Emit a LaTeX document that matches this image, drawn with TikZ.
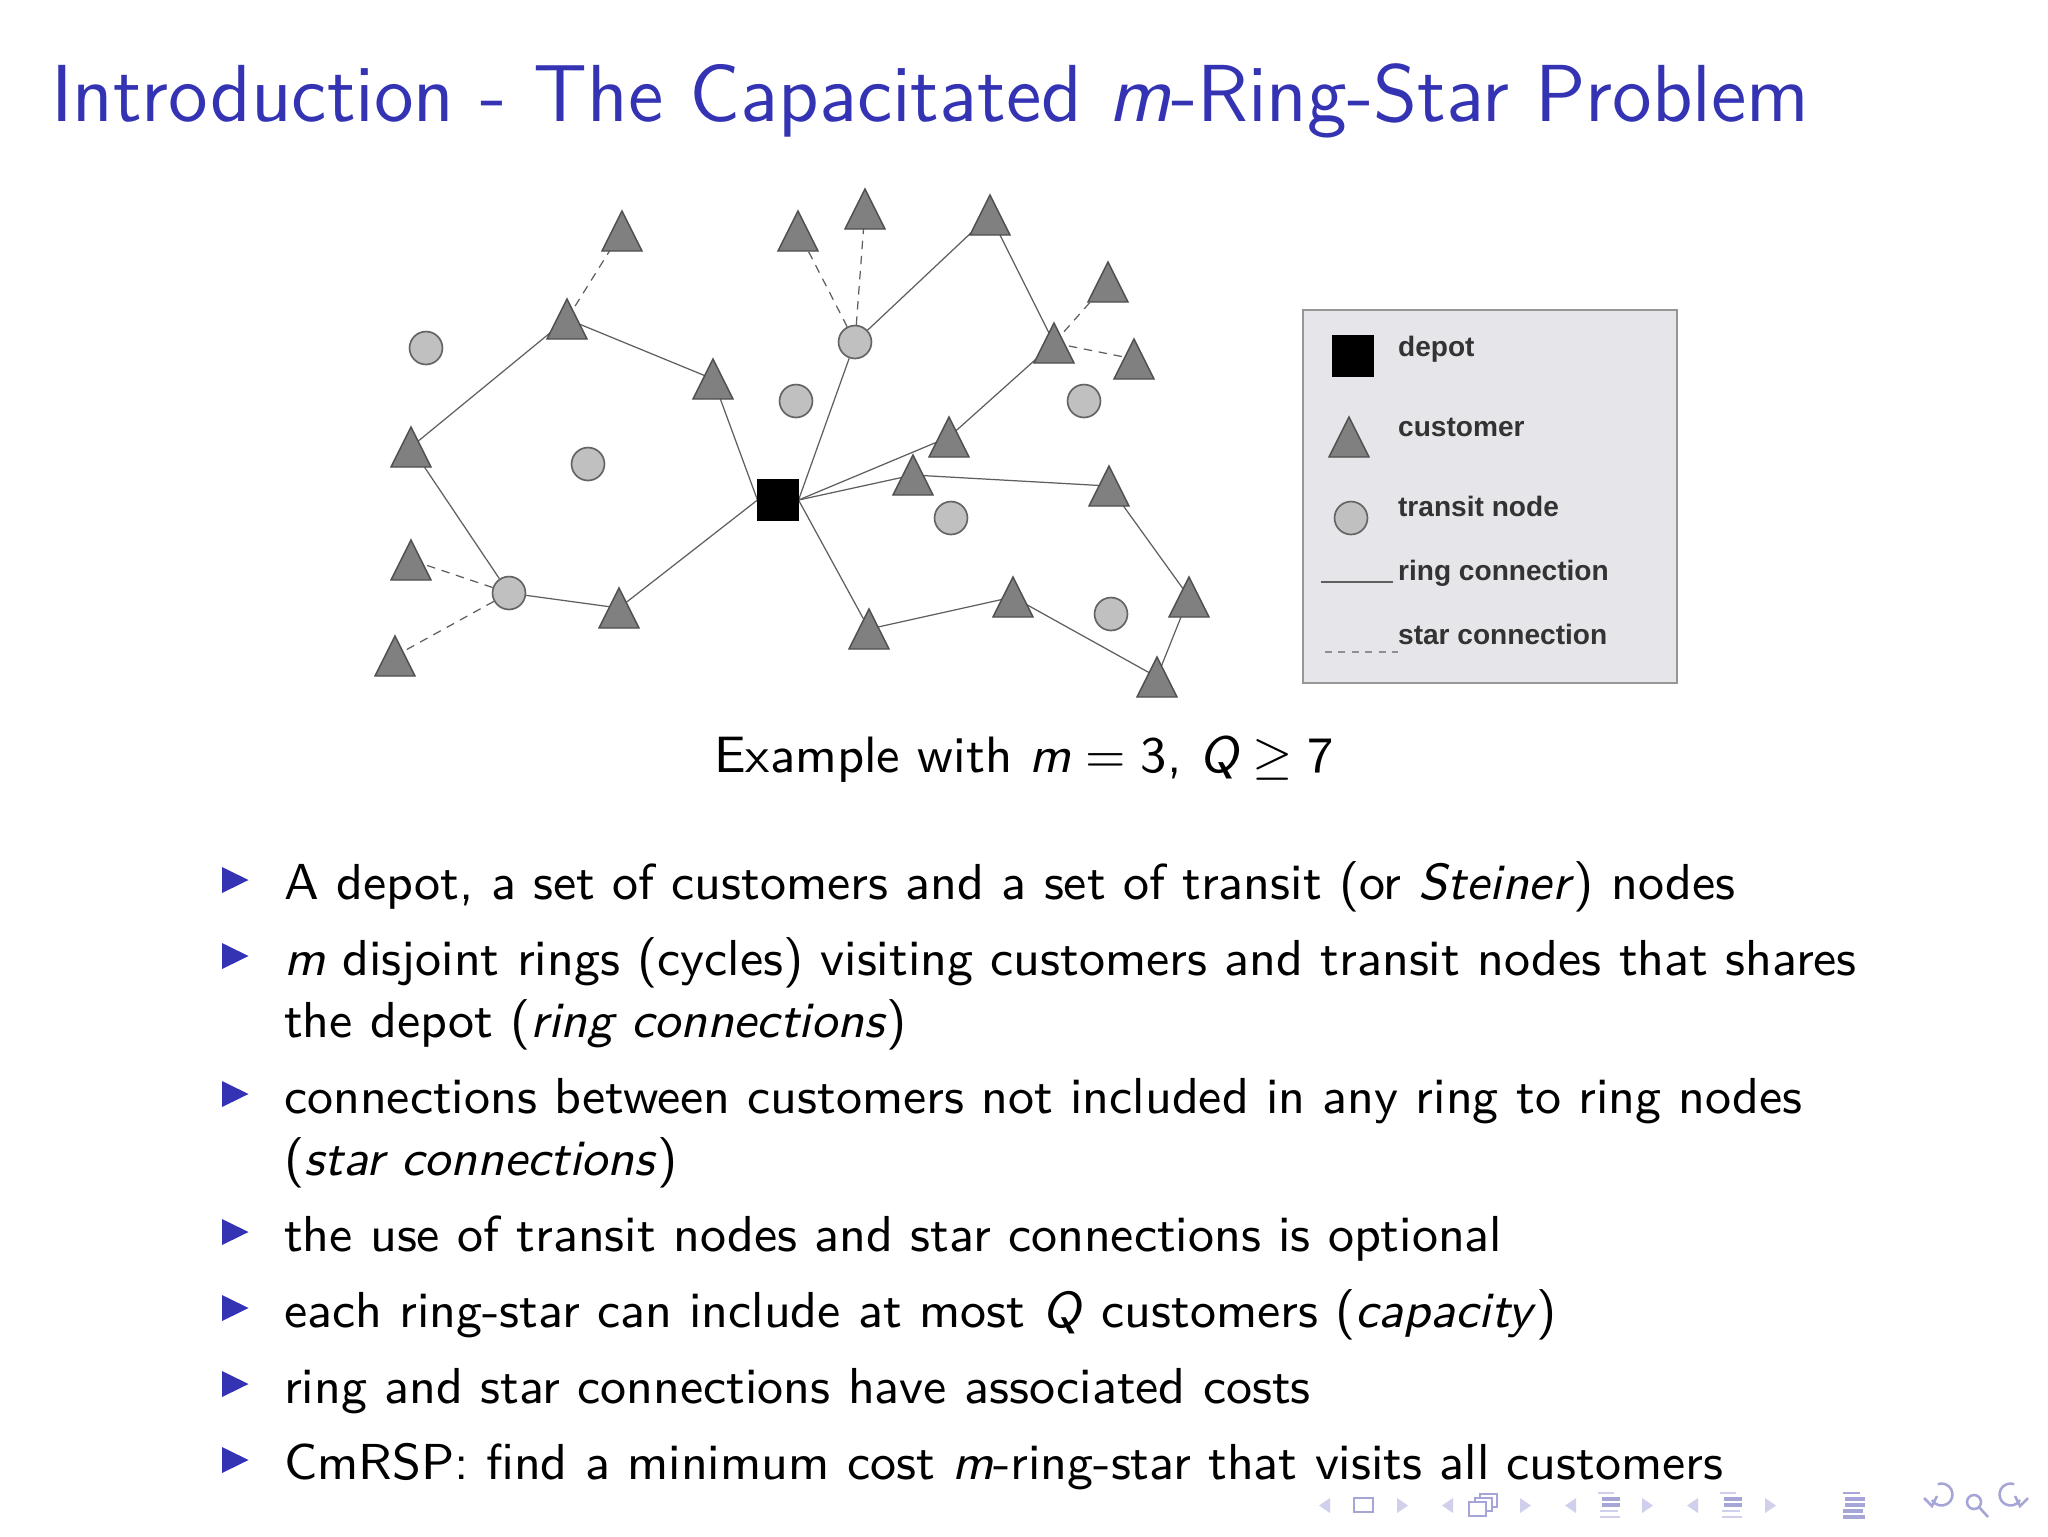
\documentclass[tikz,border=0pt]{standalone}
\usepackage{fontspec}
\newfontfamily\legendfont{Liberation Sans}
\usetikzlibrary{calc,arrows.meta}
\pgfdeclarelayer{back}
\pgfdeclarelayer{bg}
\pgfsetlayers{back,bg,main}
\definecolor{struct}{RGB}{51,51,179}
\definecolor{custfill}{RGB}{128,128,128}
\definecolor{custedge}{RGB}{78,78,78}
\definecolor{transfill}{RGB}{192,192,192}
\definecolor{transedge}{RGB}{100,100,100}
\definecolor{edgecol}{RGB}{95,95,95}
\definecolor{legfill}{RGB}{230,229,233}
\definecolor{legedge}{RGB}{150,150,150}
\definecolor{legtext}{RGB}{51,51,51}
\definecolor{navdark}{RGB}{165,165,215}
\definecolor{navlight}{RGB}{208,208,236}
\tikzset{
  cust/.pic={\filldraw[fill=custfill,draw=custedge,line width=0.25pt] (-20,20) -- (0,-20) -- (20,20) -- cycle;},
  transit/.style={circle,fill=transfill,draw=transedge,line width=0.3pt,minimum size=2.06mm,inner sep=0pt},
  depot/.style={rectangle,fill=black,draw=black,line width=0.2pt,minimum size=2.5mm,inner sep=0pt},
  ring/.style={draw=edgecol,line width=0.22pt},
  starline/.style={draw=edgecol,line width=0.22pt,dash pattern=on 1.5pt off 1.2pt},
  legtxt/.style={anchor=base west,inner sep=0pt,text=legtext,font=\legendfont\bfseries\fontsize{5}{6}\selectfont},
  bodytxt/.style={anchor=base west,inner sep=0pt,font=\sffamily\fontsize{9}{11}\selectfont},
  navtri/.style={fill=navlight,draw=none},
  navline/.style={draw=navdark,line width=0.45pt}
}
\begin{document}
\begin{tikzpicture}[x=0.00625cm,y=-0.00625cm]
\useasboundingbox (0,0) rectangle (2048,1536);
\begin{pgfonlayer}{back}
\fill[white] (0,0) rectangle (2048,1536);
\end{pgfonlayer}

% title
\node[anchor=base west,inner sep=0pt,text=struct,font=\sffamily\fontsize{14.4}{17}\selectfont] (title) at (50,121) {Introduction - The Capacitated \textit{m}-Ring-Star Problem};

% ---------- diagram nodes ----------
\coordinate (T1) at (622,231);
\coordinate (T2) at (567,319);
\coordinate (T3) at (713,379);
\coordinate (T4) at (411,447);
\coordinate (T5) at (411,560);
\coordinate (T6) at (619,608);
\coordinate (T7) at (395,656);
\coordinate (T8) at (798,231);
\coordinate (T9) at (865,209);
\coordinate (T10) at (990,215);
\coordinate (T11) at (1108,282);
\coordinate (T12) at (1054,343);
\coordinate (T13) at (1134,359);
\coordinate (T14) at (949,437);
\coordinate (T15) at (913,475);
\coordinate (T16) at (1109,486);
\coordinate (T17) at (1013,597);
\coordinate (T18) at (1189,597);
\coordinate (T19) at (869,629);
\coordinate (T20) at (1157,677);

\node[transit] (C1) at (426,348) {};
\node[transit] (C2) at (796,401) {};
\node[transit] (C3) at (588,464) {};
\node[transit] (C4) at (509,593) {};
\node[transit] (C5) at (855,342) {};
\node[transit] (C7) at (1084,401) {};
\node[transit] (C8) at (951,518) {};
\node[transit] (C9) at (1111,614) {};
\node[depot] (D) at (778,500) {};

\foreach \n in {T1,T2,T3,T4,T5,T6,T7,T8,T9,T10,T11,T12,T13,T14,T15,T16,T17,T18,T19,T20}
  \pic at (\n) {cust};

\begin{pgfonlayer}{bg}
  % ring connections
  \draw[ring] (D.west) -- (T3) -- (T2) -- (T4) -- (C4) -- (T6) -- (D.west);
  \draw[ring] (D.east) -- (C5) -- (T10) -- (T12) -- (T14) -- (D.east);
  \draw[ring] (D.east) -- (T15) -- (T16) -- (T18) -- (T20) -- (T17) -- (T19) -- (D.east);
  % star connections
  \draw[starline] (T2) -- (T1);
  \draw[starline] (C4) -- (T5);
  \draw[starline] (C4) -- (T7);
  \draw[starline] (C5) -- (T8);
  \draw[starline] (C5) -- (T9);
  \draw[starline] (T12) -- (T11);
  \draw[starline] (T12) -- (T13);
\end{pgfonlayer}

% ---------- legend ----------
\begin{pgfonlayer}{bg}
\filldraw[fill=legfill,draw=legedge,line width=0.3pt] (1303,310) rectangle (1677,683);
\end{pgfonlayer}
\node[depot,minimum size=2.56mm] (LD) at (1353,356) {};
\coordinate (LT) at (1349,437);
\pic at (LT) {cust};
\node[transit] (LC) at (1351,518) {};
\coordinate (LR1) at (1321,582);
\coordinate (LR2) at (1393,582);
\draw[ring] (LR1) -- (LR2);
\coordinate (LS1) at (1325,652);
\coordinate (LS2) at (1398,652);
\draw[draw=edgecol!70,line width=0.22pt,dash pattern=on 1.2pt off 1.2pt] (LS1) -- (LS2);
\node[legtxt] (l1) at (1397,356) {depot};
\node[legtxt] (l2) at (1397,436) {customer};
\node[legtxt] (l3) at (1397,516) {transit node};
\node[legtxt] (l4) at (1397,580) {ring connection};
\node[legtxt] (l5) at (1397,644) {star connection};

% caption
\node[anchor=base,inner sep=0pt,font=\sffamily\fontsize{9.1}{11}\selectfont] (cap) at (1024,772)
  {Example with $\mbox{\itshape m} = \mbox{3}$, $\mbox{\itshape Q} \geq \mbox{7}$};

% ---------- bullets ----------
\foreach \b in {899,975,1113,1251,1327,1403,1479}
  \fill[struct] (222,\b-32) -- (248.5,\b-19) -- (222,\b-6) -- cycle;

\node[bodytxt] (b1) at (283,899) {A depot, a set of customers and a set of transit (or \textit{Steiner}) nodes};
\node[bodytxt] (b2a) at (283,975) {\textit{m} disjoint rings (cycles) visiting customers and transit nodes that shares};
\node[bodytxt] (b2b) at (283,1037) {the depot (\textit{ring connections})};
\node[bodytxt] (b3a) at (283,1113) {connections between customers not included in any ring to ring nodes};
\node[bodytxt] (b3b) at (283,1175) {(\textit{star connections})};
\node[bodytxt] (b4) at (283,1251) {the use of transit nodes and star connections is optional};
\node[bodytxt] (b5) at (283,1327) {each ring-star can include at most \textit{Q} customers (\textit{capacity})};
\node[bodytxt] (b6) at (283,1403) {ring and star connections have associated costs};
\node[bodytxt] (b7) at (283,1479) {CmRSP: find a minimum cost \textit{m}-ring-star that visits all customers};

% ---------- navigation symbols ----------
\foreach \cx in {1325,1448,1571,1693} \fill[navtri] (\cx+5,1498) -- (\cx-6,1505.5) -- (\cx+5,1513) -- cycle;
\foreach \cx in {1402,1525,1647,1770} \fill[navtri] (\cx-5,1498) -- (\cx+6,1505.5) -- (\cx-5,1513) -- cycle;
\draw[navline] (1354,1498) rectangle (1373,1512);
\filldraw[navline,fill=white] (1480,1494) rectangle (1497,1507);
\filldraw[navline,fill=white] (1475,1498) rectangle (1492,1511);
\filldraw[navline,fill=white] (1469,1502) rectangle (1486,1516);
\foreach \lx in {1598,1720} {
  \draw[navline,draw=navlight,line width=0.5pt] (\lx,1493) -- (\lx+16,1493);
  \draw[navline,line width=0.55pt] (\lx+4,1499) -- (\lx+22,1499);
  \draw[navline,line width=0.55pt] (\lx+4,1505) -- (\lx+22,1505);
  \draw[navline,draw=navlight,line width=0.5pt] (\lx+2,1511) -- (\lx+20,1511);
  \draw[navline,draw=navlight,line width=0.5pt] (\lx+2,1517) -- (\lx+22,1517);
}
\draw[navline,line width=0.5pt] (1843,1493) -- (1860,1493);
\draw[navline,line width=0.55pt] (1845,1499) -- (1865,1499);
\draw[navline,line width=0.55pt] (1845,1505) -- (1865,1505);
\draw[navline,line width=0.55pt] (1843,1511) -- (1863,1511);
\draw[navline,line width=0.55pt] (1843,1517) -- (1865,1517);
\draw[navline] (1932,1500) arc[start angle=150,end angle=-110,radius=11];
\draw[navline] (1924,1498) -- (1932,1506) -- (1937,1496);
\draw[navline] (1974,1502) circle[radius=7];
\draw[navline] (1979,1507) -- (1988,1517);
\draw[navline] (2020,1500) arc[start angle=30,end angle=290,radius=11];
\draw[navline] (2028,1498) -- (2020,1506) -- (2015,1496);
\end{tikzpicture}
\end{document}
